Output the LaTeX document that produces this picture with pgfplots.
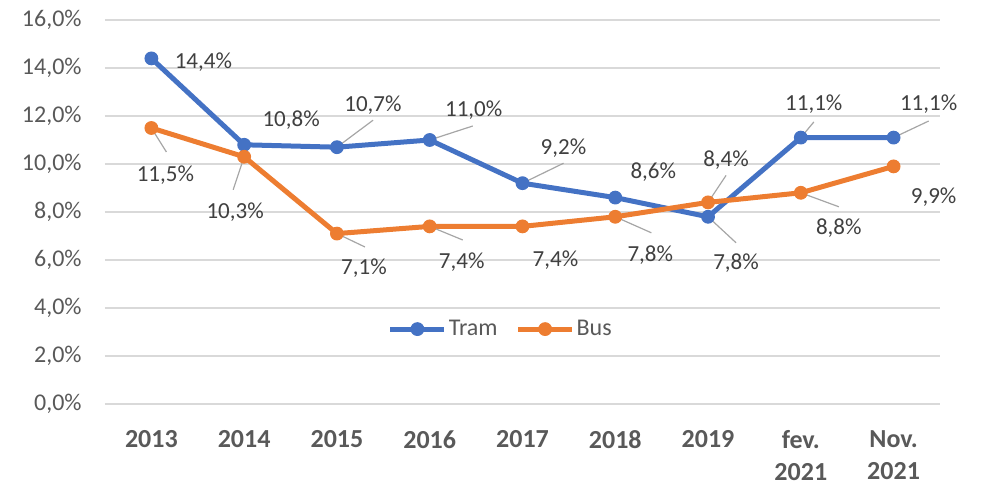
\documentclass[border=0pt]{standalone}
\usepackage{pgfplots}
\pgfplotsset{compat=1.18}
\usepackage{pgfplotstable}
\usepackage{fontspec}
\setmainfont{Carlito}
\definecolor{tram}{HTML}{4472C4}
\definecolor{bus}{HTML}{ED7D31}
\definecolor{gridc}{HTML}{D9D9D9}
\definecolor{ticktext}{HTML}{595959}
\definecolor{labeltext}{HTML}{404040}
\definecolor{leader}{HTML}{A6A6A6}

% x y label-offset(pt) leader-vector(axis units)
\pgfplotstableread{
x y lx ly u v
0 14.4 26 -1.8 0 0
1 10.8 23.5 12.5 0 0
2 10.7 18 21 0.389 1.125
3 11.0 22 15 0.464 0.583
4 9.2 20.5 17.5 0.443 0.833
5 8.6 19 12.5 0 0
6 7.8 14 -23 0.302 -1.083
7 11.1 6.5 16.5 0.140 0.65
8 11.1 17.5 16.5 0.378 0.69
}\tramdata

\pgfplotstableread{
x y lx ly u v
0 11.5 7 -23.5 0.162 -1.0
1 10.3 -4.5 -27.5 -0.119 -1.375
2 7.1 13.5 -17.2 0.302 -0.558
3 7.4 16 -17.8 0.356 -0.567
4 7.4 16.5 -16.8 0 0
5 7.8 17.5 -19 0.389 -0.667
6 8.4 9 21 0.194 1.125
7 8.8 19 -17.5 0.410 -0.583
8 9.9 20 -15.3 0 0
}\busdata

\begin{document}
\begin{tikzpicture}
\useasboundingbox (-52.5pt,-40.5pt) rectangle (438.5pt,202pt);
\begin{axis}[
  scale only axis,
  width=417.5pt, height=192pt,
  xmin=-0.5, xmax=8.5,
  ymin=0, ymax=16,
  clip=false,
  axis line style={draw=none},
  major tick length=0pt,
  ytick={0,2,...,16},
  yticklabels={{0,0\%},{2,0\%},{4,0\%},{6,0\%},{8,0\%},{10,0\%},{12,0\%},{14,0\%},{16,0\%}},
  yticklabel style={inner sep=0pt, anchor=east, xshift=-11.5pt, text=ticktext, font=\fontsize{12}{14}\selectfont},
  xtick={0,...,8},
  xticklabels={2013,2014,2015,2016,2017,2018,2019,{fev.\\2021},{Nov.\\2021}},
  xticklabel style={inner sep=0pt, anchor=north, yshift=-13pt, align=center, text=ticktext, font=\bfseries\fontsize{13}{16}\selectfont},
  ymajorgrids,
  grid style={gridc, line width=0.75pt},
  /pgf/number format/assume math mode=true,
  legend style={at={(0.474,0.195)}, anchor=center, draw=none, fill=none,
    font=\fontsize{12}{14}\selectfont, text=ticktext,
    nodes={inner sep=1pt}},
  legend columns=2,
  /tikz/every even column/.append style={column sep=8pt},
  legend image code/.code={\draw[mark repeat=2,mark phase=2,#1] plot coordinates {(0pt,0pt) (13.5pt,0pt) (27pt,0pt)};},
  every node near coord/.append style={font=\fontsize{11.5}{13}\selectfont, text=labeltext, inner sep=0pt},
]
\addplot[tram, line width=2.5pt, mark=*, mark size=3.2pt, mark options={line width=0.5pt},
  nodes near coords={\pgfmathprintnumber[fixed,fixed zerofill,precision=1,use comma]{\pgfplotspointmeta}\%},
  point meta=y,
  visualization depends on={\thisrow{lx}\as\lx},
  visualization depends on={\thisrow{ly}\as\ly},
  nodes near coords style={anchor=center, xshift=\lx pt, yshift=\ly pt},
] table[x=x,y=y] {\tramdata};
\addlegendentry{Tram}
\addplot[bus, line width=2.5pt, mark=*, mark size=3.2pt, mark options={line width=0.5pt},
  nodes near coords={\pgfmathprintnumber[fixed,fixed zerofill,precision=1,use comma]{\pgfplotspointmeta}\%},
  point meta=y,
  visualization depends on={\thisrow{lx}\as\lx},
  visualization depends on={\thisrow{ly}\as\ly},
  nodes near coords style={anchor=center, xshift=\lx pt, yshift=\ly pt},
] table[x=x,y=y] {\busdata};
\addlegendentry{Bus}
\addplot[forget plot, leader, line width=0.6pt, no marks, quiver={u=\thisrow{u}, v=\thisrow{v}}] table[x=x,y=y] {\tramdata};
\addplot[forget plot, leader, line width=0.6pt, no marks, quiver={u=\thisrow{u}, v=\thisrow{v}}] table[x=x,y=y] {\busdata};
\end{axis}
\end{tikzpicture}
\end{document}
